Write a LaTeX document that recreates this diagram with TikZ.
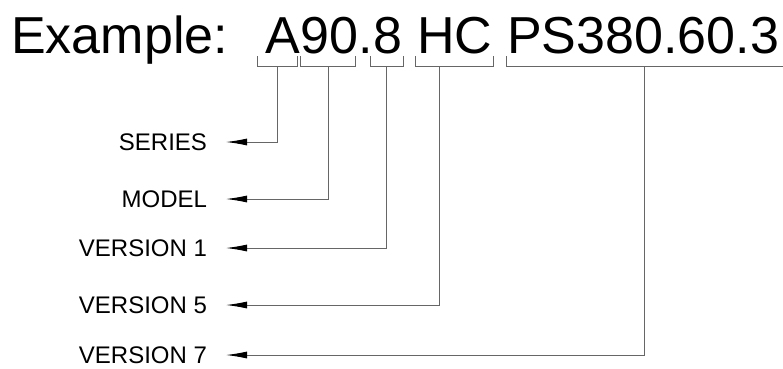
\documentclass[tikz,border=0pt]{standalone}
\usepackage{fontspec}
\setmainfont{Liberation Sans}
\usetikzlibrary{arrows.meta,calc,positioning}

\begin{document}
\begin{tikzpicture}
[x=1pt, y=-1pt,
seg/.style={inner sep=0pt, anchor=base west, font=\fontsize{52}{60}\selectfont},
lab/.style={inner sep=0pt, outer xsep=19pt, anchor=east, font=\fontsize{24}{28}\selectfont},
brk/.style={black!60, line width=.9pt},
conn/.style={black!60, line width=.9pt, -{Latex[length=21pt,width=7pt,black]}}]
\useasboundingbox (0,0) rectangle (783,368);
% code string
\node[seg] (ex) at (11,53) {Example:};
\node[seg] (sA) at (265,53) {A};
\node[seg] (s90) at (sA.base east) {90};
\node[seg] (sdot) at (s90.base east) {.};
\node[seg] (s8) at (sdot.base east) {8};
\node[seg] (sHC) at ($(s8.base east)+(14.5,0)$) {HC};
\node[seg] (sPS) at ($(sHC.base east)+(14.5,0)$) {PS380.60.3};
% brackets
\draw[brk] ($(sA.base west)+(-8,3)$) -- ++(0,10) -| ($(sA.base east)+(-3,3)$);
\draw[brk] ($(s90.base west)+(0,3)$) -- ++(0,10) -| ($(s90.base east)+(-3,3)$);
\draw[brk] ($(s8.base west)+(-3,3)$) -- ++(0,10) -| ($(s8.base east)+(1,3)$);
\draw[brk] ($(sHC.base west)+(-2,3)$) -- ++(0,10) -| ($(sHC.base east)+(1,3)$);
\draw[brk] ($(sPS.base west)+(-1,3)$) -- ++(0,10) -| ($(sPS.base east)+(5,3)$);
\coordinate (kA) at (277,66);
\coordinate (k90) at (328,66);
\coordinate (k8) at (386,66);
\coordinate (kHC) at (439,66);
\coordinate (kPS) at (644,66);
% labels
\node[lab] (lSer) at (226,142) {SERIES};
\node[lab] (lMod) at (226,199) {MODEL};
\node[lab] (lV1) at (226,248) {VERSION 1};
\node[lab] (lV5) at (226,305) {VERSION 5};
\node[lab] (lV7) at (226,355) {VERSION 7};
\draw[conn] (kA) |- (lSer.east);
\draw[conn] (k90) |- (lMod.east);
\draw[conn] (k8) |- (lV1.east);
\draw[conn] (kHC) |- (lV5.east);
\draw[conn] (kPS) |- (lV7.east);
\end{tikzpicture}
\end{document}
